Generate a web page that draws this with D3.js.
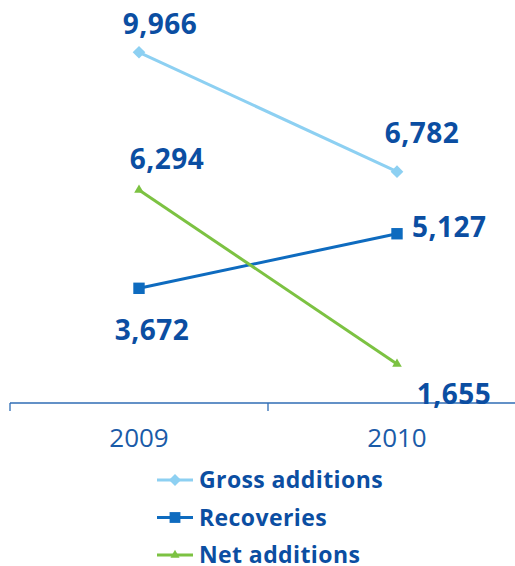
<!DOCTYPE html>
<html><head><meta charset="utf-8">
<script src="https://cdn.jsdelivr.net/npm/d3@7"></script>
<style>html,body{margin:0;padding:0;background:#fff;}</style>
</head><body>
<svg id="c" width="515" height="566"></svg>
<script>
const categories = ["2009", "2010"];
const seriesNames = ["Gross additions", "Recoveries", "Net additions"];
const grossAdditions = [9966, 6782];
const recoveries = [3672, 5127];
const netAdditions = [6294, 1655];

const colors = ["#8DD0F2", "#0E6BBF", "#7CC242"];
const symbols = [d3.symbolSquare, d3.symbolSquare, d3.symbolTriangle];
const symRot = [45, 0, 0];
const symSizes = [80, 130, 40];
const textColor = "#0B4EA2";
// label placement per series per point: [dx, dy, anchor]
const labelPos = [
  [[21, -18, "middle"], [25, -29, "middle"]],
  [[13, 52, "middle"], [15, 3, "start"]],
  [[28, -21, "middle"], [57, 40, "middle"]]
];

const series = [grossAdditions, recoveries, netAdditions];
const svg = d3.select("#c");
const font = "'Open Sans', sans-serif";

const x = d3.scaleBand().domain(categories).range([10, 526]);
const y = d3.scaleLinear().domain([0, 10000]).range([426, 51]);
const cx = c => x(c) + x.bandwidth() / 2;

// axis
const axisY = 403;
const ax = svg.append("g").attr("transform", `translate(0,${axisY})`);
ax.append("line").attr("x1", 10).attr("x2", 515).attr("stroke", "#2F6DB5").attr("stroke-width", 1.3);
const tickXs = categories.map(c => x(c)).concat([x(categories[categories.length-1]) + x.bandwidth()]);
ax.selectAll("line.t").data(tickXs).enter().append("line").attr("class","t")
  .attr("x1", d => d).attr("x2", d => d).attr("y1", 0).attr("y2", 8)
  .attr("stroke", "#2F6DB5").attr("stroke-width", 1.3);
ax.selectAll("text").data(categories).enter().append("text")
  .attr("x", d => cx(d)).attr("y", 44).attr("text-anchor", "middle")
  .attr("font-family", font).attr("font-size", 26).attr("fill", "#1A5BA8")
  .text(d => d);

const line = d3.line().x((d, i) => cx(categories[i])).y(d => y(d));

series.forEach((vals, si) => {
  const g = svg.append("g");
  g.append("path").datum(vals).attr("d", line).attr("fill", "none")
    .attr("stroke", colors[si]).attr("stroke-width", 3);
  g.selectAll("path.m").data(vals).enter().append("path").attr("class","m")
    .attr("transform", (d, i) => `translate(${cx(categories[i])},${y(d)}) rotate(${symRot[si]})`)
    .attr("d", d3.symbol().type(symbols[si]).size(symSizes[si]))
    .attr("fill", colors[si]);
  g.selectAll("text").data(vals).enter().append("text")
    .attr("x", (d, i) => cx(categories[i]) + labelPos[si][i][0])
    .attr("y", (d, i) => y(d) + labelPos[si][i][1])
    .attr("text-anchor", (d, i) => labelPos[si][i][2])
    .attr("font-family", font).attr("font-weight", 700).attr("font-size", 28)
    .attr("letter-spacing", 0.5)
    .attr("fill", textColor)
    .text(d => d3.format(",")(d));
});

// legend
const lg = svg.append("g");
seriesNames.forEach((name, si) => {
  const ly = 480 + si * 37.5;
  lg.append("line").attr("x1", 157).attr("x2", 193).attr("y1", ly).attr("y2", ly)
    .attr("stroke", colors[si]).attr("stroke-width", 3);
  lg.append("path").attr("transform", `translate(175,${ly}) rotate(${symRot[si]})`)
    .attr("d", d3.symbol().type(symbols[si]).size(symSizes[si] * 0.9)).attr("fill", colors[si]);
  lg.append("text").attr("x", 199).attr("y", ly + 8)
    .attr("font-family", font).attr("font-weight", 700).attr("font-size", 23)
    .attr("fill", textColor).attr("letter-spacing", 0.4).text(name);
});
</script>
</body></html>
